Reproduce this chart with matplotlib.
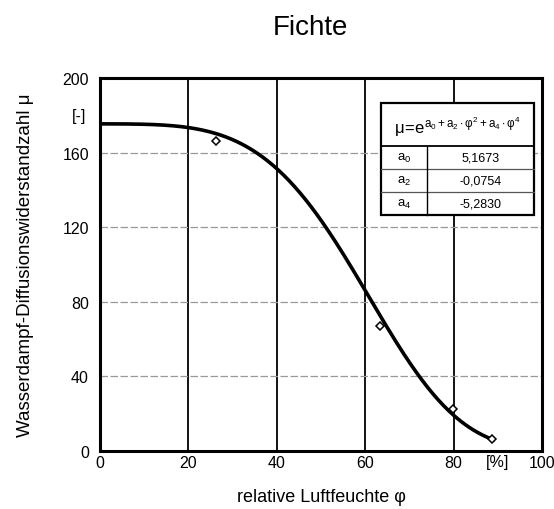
import matplotlib
matplotlib.use('Agg')
import matplotlib.pyplot as plt
import numpy as np

plt.rcParams['font.family'] = ['Liberation Sans', 'DejaVu Sans']
plt.rcParams['mathtext.fontset'] = 'custom'
plt.rcParams['mathtext.rm'] = 'Liberation Sans'
plt.rcParams['mathtext.it'] = 'Liberation Sans'

# Messpunkte
feuchte = [26.2, 63.3, 79.8, 88.8]
mu_mess = [166, 67, 22.5, 6.5]

# Koeffizienten der Ausgleichskurve
koeff_namen = ['a$_0$', 'a$_2$', 'a$_4$']
koeff_text = ['5,1673', '-0,0754', '-5,2830']
a0, a2, a4 = 5.1673, -0.0754, -5.2830

x_ticks = [0, 20, 40, 60, 80, 100]
y_ticks = [0, 40, 80, 120, 160, 200]

fig = plt.figure(figsize=(5.54, 5.10), dpi=100)
ax = fig.add_axes([0.1805, 0.1137, 0.9783 - 0.1805, 0.845 - 0.1137])

# Ausgleichskurve mu = exp(a0 + a2*phi^2 + a4*phi^4)
phi = np.linspace(0, 0.89, 300)
mu = np.exp(a0 + a2 * phi**2 + a4 * phi**4)
ax.plot(phi * 100, mu, color='black', linewidth=2.6, zorder=4)

# Messpunkte als Rauten
ax.plot(feuchte, mu_mess, linestyle='none', marker='D', markersize=4.5,
        markerfacecolor='white', markeredgecolor='black', markeredgewidth=1.1, zorder=5)

# Gitter
for xv in x_ticks[1:-1]:
    ax.axvline(xv, color='black', linewidth=1.3, zorder=1)
for yv in y_ticks[1:-1]:
    ax.axhline(yv, color='#999999', linewidth=0.9, linestyle=(0, (6, 2)), zorder=1)

ax.set_xlim(0, 100)
ax.set_ylim(0, 200)
ax.set_xticks(x_ticks)
ax.set_yticks(y_ticks)
ax.tick_params(length=0, labelsize=11.5)
ax.tick_params(axis='x', pad=3)
ax.tick_params(axis='y', pad=8)
for s in ax.spines.values():
    s.set_linewidth(2.2)

ax.text(-3.2, 180, '[-]', ha='right', va='center', fontsize=11.5)
ax.text(90, -1.5, '[%]', ha='center', va='top', fontsize=11.5)

ax.set_xlabel('relative Luftfeuchte φ', fontsize=13, labelpad=13)
ax.set_ylabel('Wasserdampf-Diffusionswiderstandzahl μ', fontsize=13.5, labelpad=20)
fig.text(0.56, 0.945, 'Fichte', ha='center', va='center', fontsize=20)

# Tabelle mit Koeffizienten
tl, tr, tm = 63.6, 98.2, 74.0
t_top, t_head = 186.6, 163.5
zeilen = [163.5, 151.2, 138.9, 126.5]
ax.add_patch(plt.Rectangle((tl, zeilen[-1]), tr - tl, t_top - zeilen[-1],
                           facecolor='white', edgecolor='black', linewidth=1.6, zorder=6))
ax.plot([tl, tr], [t_head, t_head], color='black', linewidth=1.3, zorder=7)
for yv in zeilen[1:-1]:
    ax.plot([tl, tr], [yv, yv], color='#555555', linewidth=0.9, zorder=7)
ax.plot([tm, tm], [zeilen[-1], t_head], color='black', linewidth=1.0, zorder=7)
ax.text((tl + tr) / 2, (t_top + t_head) / 2 - 1,
        r'$\mu\!=\!e^{a_0+a_2\cdot\varphi^2+a_4\cdot\varphi^4}$',
        ha='center', va='center', fontsize=12, zorder=8)
for i in range(3):
    ym = (zeilen[i] + zeilen[i + 1]) / 2
    ax.text((tl + tm) / 2, ym, koeff_namen[i], ha='center', va='center', fontsize=9.5, zorder=8)
    ax.text((tm + tr) / 2, ym, koeff_text[i], ha='center', va='center', fontsize=9, zorder=8)

fig.savefig('out.png', dpi=100)
